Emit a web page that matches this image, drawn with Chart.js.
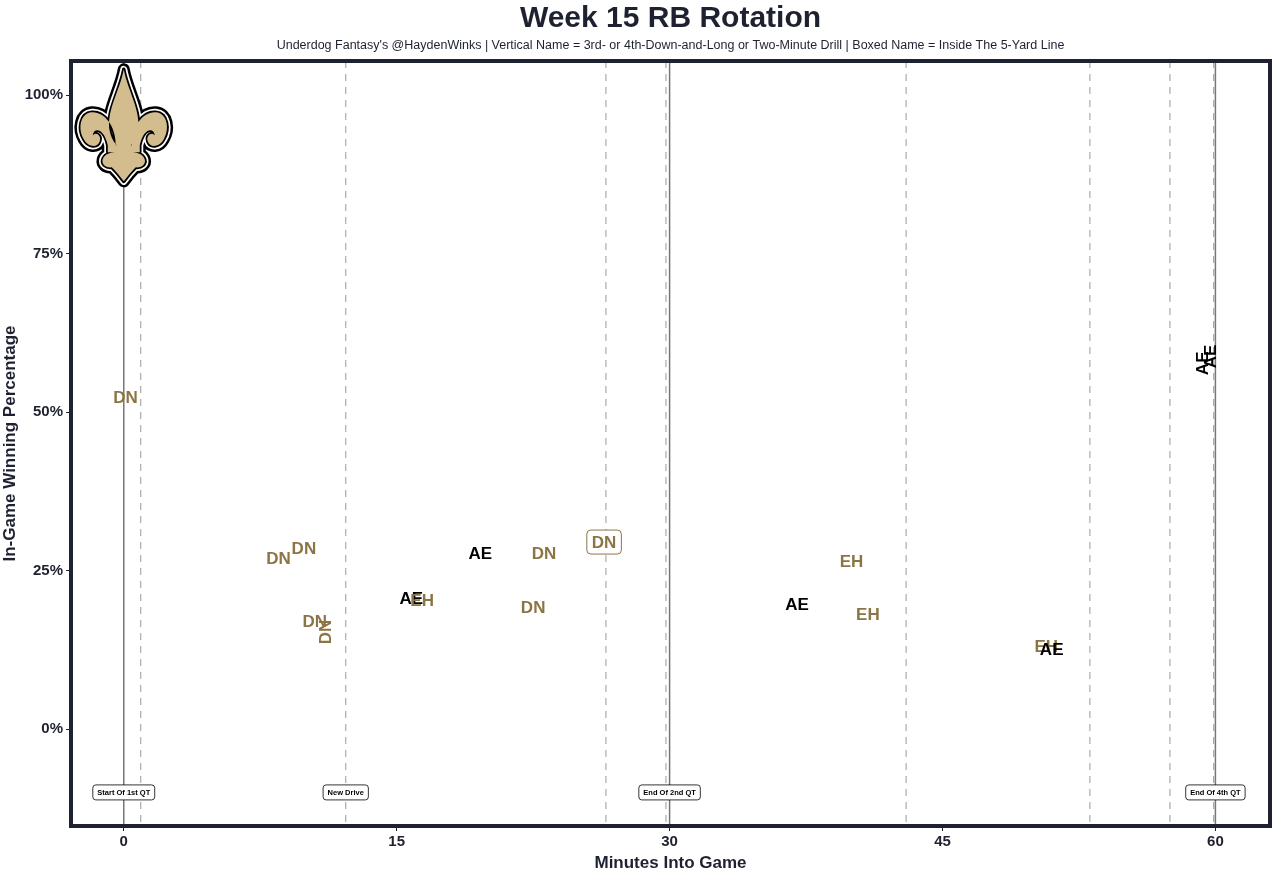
<!DOCTYPE html>
<html>
<head>
<meta charset="utf-8">
<script src="https://cdn.jsdelivr.net/npm/chart.js@4.4.1/dist/chart.umd.min.js"></script>
<style>
  html, body { margin: 0; padding: 0; background: #ffffff; }
  #wrap { width: 1279px; height: 874px; }
</style>
</head>
<body>
<div id="wrap"><canvas id="rbChart"></canvas></div>
<script>
// data
const dnX = [0.1, 8.5, 9.9, 10.5, 11.1, 22.5, 23.1, 26.4];
const dnY = [52.4, 27.0, 28.5, 17.0, 15.3, 19.2, 27.8, 29.5];
const dnVertical = [false, false, false, false, true, false, false, false];
const dnBoxed = [false, false, false, false, false, false, false, true];

const aeX = [15.8, 19.6, 37.0, 51.0, 59.3, 59.7];
const aeY = [20.7, 27.8, 19.7, 12.6, 57.7, 58.8];
const aeVertical = [false, false, false, false, true, true];
const aeBoxed = [false, false, false, false, false, false];

const ehX = [16.4, 40.0, 40.9, 50.7];
const ehY = [20.3, 26.5, 18.1, 13.1];
const ehVertical = [false, false, false, false];
const ehBoxed = [false, false, false, false];

const quarterLines = [0, 30, 60];
const driveLines = [0.93, 12.2, 26.5, 29.8, 43.0, 53.1, 57.5, 59.9];
const eventX = [0, 12.2, 30, 60];
const eventText = ['Start Of 1st QT', 'New Drive', 'End Of 2nd QT', 'End Of 4th QT'];
const eventY = -10;

const xTicks = [0, 15, 30, 45, 60];
const yTicks = [0, 25, 50, 75, 100];

const colors = {
  gold: '#8C7545',
  black: '#000000',
  logoGold: '#D3BC8D',
  ink: '#1E2130',
  line: '#777777',
  dash: '#AAAAAA'
};
const FONT = '"Liberation Sans", Arial, sans-serif';

const toPoints = (xs, ys) => xs.map((x, i) => ({ x: x, y: ys[i] }));

// fleur-de-lis drawn around the x=0 line (rough copy of the team logo)
const drawLogo = (ctx, cx, top) => {
  const side = (c, s) => {
    c.moveTo(cx + s * 8, top + 78);
    c.bezierCurveTo(cx + s * 8, top + 58, cx + s * 20, top + 44, cx + s * 32, top + 45);
    c.bezierCurveTo(cx + s * 44, top + 46, cx + s * 46, top + 62, cx + s * 40, top + 72);
    c.bezierCurveTo(cx + s * 36, top + 80, cx + s * 26, top + 81, cx + s * 24, top + 74);
    c.bezierCurveTo(cx + s * 22, top + 68, cx + s * 28, top + 64, cx + s * 31, top + 68);
    c.bezierCurveTo(cx + s * 30, top + 60, cx + s * 20, top + 60, cx + s * 16, top + 78);
    c.closePath();
  };
  const shapes = (c) => {
    c.beginPath();
    // centre petal
    c.moveTo(cx, top + 2);
    c.bezierCurveTo(cx + 4, top + 24, cx + 18, top + 44, cx + 14, top + 64);
    c.bezierCurveTo(cx + 12, top + 74, cx + 6, top + 80, cx, top + 84);
    c.bezierCurveTo(cx - 6, top + 80, cx - 12, top + 74, cx - 14, top + 64);
    c.bezierCurveTo(cx - 18, top + 44, cx - 4, top + 24, cx, top + 2);
    c.closePath();
    side(c, 1);
    side(c, -1);
    // band
    c.rect(cx - 16, top + 78, 32, 7);
    // lower part
    c.moveTo(cx - 7, top + 85);
    c.bezierCurveTo(cx - 24, top + 84, cx - 26, top + 101, cx - 12, top + 100);
    c.bezierCurveTo(cx - 8, top + 104, cx - 3, top + 110, cx, top + 114);
    c.bezierCurveTo(cx + 3, top + 110, cx + 8, top + 104, cx + 12, top + 100);
    c.bezierCurveTo(cx + 26, top + 101, cx + 24, top + 84, cx + 7, top + 85);
    c.closePath();
  };
  ctx.save();
  ctx.lineJoin = 'round';
  shapes(ctx);
  ctx.strokeStyle = '#000000';
  ctx.lineWidth = 12;
  ctx.stroke();
  ctx.strokeStyle = '#ffffff';
  ctx.lineWidth = 7;
  ctx.stroke();
  ctx.strokeStyle = '#000000';
  ctx.lineWidth = 3.5;
  ctx.stroke();
  ctx.fillStyle = colors.logoGold;
  ctx.fill();
  ctx.restore();
};

const roundRect = (ctx, x, y, w, h, r) => {
  ctx.beginPath();
  ctx.moveTo(x + r, y);
  ctx.lineTo(x + w - r, y);
  ctx.quadraticCurveTo(x + w, y, x + w, y + r);
  ctx.lineTo(x + w, y + h - r);
  ctx.quadraticCurveTo(x + w, y + h, x + w - r, y + h);
  ctx.lineTo(x + r, y + h);
  ctx.quadraticCurveTo(x, y + h, x, y + h - r);
  ctx.lineTo(x, y + r);
  ctx.quadraticCurveTo(x, y, x + r, y);
  ctx.closePath();
};

const rotationPlugin = {
  id: 'rotationPlugin',
  beforeDatasetsDraw(chart) {
    const { ctx, chartArea: a, scales: { x, y } } = chart;
    ctx.save();
    ctx.lineWidth = 1.2;
    ctx.strokeStyle = colors.dash;
    ctx.setLineDash([7, 6]);
    driveLines.forEach((v) => {
      const px = x.getPixelForValue(v);
      ctx.beginPath();
      ctx.moveTo(px, a.top);
      ctx.lineTo(px, a.bottom);
      ctx.stroke();
    });
    ctx.setLineDash([]);
    ctx.strokeStyle = colors.line;
    ctx.lineWidth = 1.5;
    quarterLines.forEach((v) => {
      const px = x.getPixelForValue(v);
      ctx.beginPath();
      ctx.moveTo(px, a.top);
      ctx.lineTo(px, a.bottom);
      ctx.stroke();
    });
    ctx.restore();

    drawLogo(ctx, x.getPixelForValue(0), y.getPixelForValue(104.4));

    // event boxes at the bottom
    ctx.save();
    ctx.font = 'bold 7.5px ' + FONT;
    ctx.textAlign = 'center';
    ctx.textBaseline = 'middle';
    eventX.forEach((v, i) => {
      const px = x.getPixelForValue(v);
      const py = y.getPixelForValue(eventY);
      const w = ctx.measureText(eventText[i]).width + 9;
      const h = 15;
      roundRect(ctx, px - w / 2, py - h / 2, w, h, 3);
      ctx.fillStyle = '#ffffff';
      ctx.fill();
      ctx.strokeStyle = '#000000';
      ctx.lineWidth = 0.8;
      ctx.stroke();
      ctx.fillStyle = '#000000';
      ctx.fillText(eventText[i], px, py + 0.5);
    });
    ctx.restore();
  },
  afterDatasetsDraw(chart) {
    const { ctx } = chart;
    const items = [];
    chart.data.datasets.forEach((ds, di) => {
      const meta = chart.getDatasetMeta(di);
      meta.data.forEach((el, i) => {
        items.push({
          px: el.x, py: el.y, v: ds.data[i].x, text: ds.label,
          color: ds.textColor, vertical: ds.vertical[i], boxed: ds.boxed[i]
        });
      });
    });
    // later plays are drawn on top
    items.sort((p, q) => p.v - q.v);
    ctx.save();
    ctx.font = 'bold 17px ' + FONT;
    ctx.textAlign = 'center';
    ctx.textBaseline = 'middle';
    items.forEach((it) => {
      ctx.save();
      ctx.translate(it.px, it.py);
      if (it.vertical) ctx.rotate(-Math.PI / 2);
      if (it.boxed) {
        const w = ctx.measureText(it.text).width + 10;
        roundRect(ctx, -w / 2, -12, w, 24, 4);
        ctx.fillStyle = '#ffffff';
        ctx.fill();
        ctx.strokeStyle = it.color;
        ctx.lineWidth = 1;
        ctx.stroke();
      }
      ctx.fillStyle = it.color;
      ctx.fillText(it.text, 0, 1);
      ctx.restore();
    });
    ctx.restore();
  },
  afterDraw(chart) {
    const { ctx, chartArea: a } = chart;
    ctx.save();
    ctx.strokeStyle = colors.ink;
    ctx.lineWidth = 4;
    ctx.strokeRect(a.left, a.top, a.right - a.left, a.bottom - a.top);
    const mid = (a.left + a.right) / 2;
    ctx.fillStyle = colors.ink;
    ctx.textAlign = 'center';
    ctx.textBaseline = 'middle';
    ctx.font = 'bold 30px ' + FONT;
    ctx.fillText('Week 15 RB Rotation', mid, 19);
    ctx.font = '12.5px ' + FONT;
    ctx.fillText("Underdog Fantasy's @HaydenWinks | Vertical Name = 3rd- or 4th-Down-and-Long or Two-Minute Drill | Boxed Name = Inside The 5-Yard Line", mid, 46);
    ctx.restore();
  }
};

const ds = (label, xs, ys, vert, boxed, color) => ({
  label: label,
  data: toPoints(xs, ys),
  vertical: vert,
  boxed: boxed,
  textColor: color,
  pointRadius: 0,
  pointHoverRadius: 0,
  showLine: false
});

new Chart(document.getElementById('rbChart'), {
  type: 'scatter',
  data: {
    datasets: [
      ds('DN', dnX, dnY, dnVertical, dnBoxed, colors.gold),
      ds('AE', aeX, aeY, aeVertical, aeBoxed, colors.black),
      ds('EH', ehX, ehY, ehVertical, ehBoxed, colors.gold)
    ]
  },
  options: {
    responsive: true,
    maintainAspectRatio: false,
    animation: false,
    layout: { padding: { top: 61, right: 9, left: 0, bottom: 0 } },
    plugins: {
      legend: { display: false },
      tooltip: { enabled: false }
    },
    scales: {
      x: {
        type: 'linear',
        min: -2.9,
        max: 63,
        afterBuildTicks: (s) => { s.ticks = xTicks.map((v) => ({ value: v })); },
        afterFit: (s) => { s.height = 48; },
        border: { display: false },
        grid: { drawOnChartArea: false, drawTicks: true, tickLength: 5, color: colors.ink, lineWidth: 1 },
        ticks: { color: colors.ink, font: { family: FONT, size: 15, weight: 'bold' }, padding: 2 },
        title: { display: true, text: 'Minutes Into Game', color: colors.ink, font: { family: FONT, size: 17, weight: 'bold' }, padding: { top: 0, bottom: 0 } }
      },
      y: {
        type: 'linear',
        min: -15.3,
        max: 105.4,
        afterBuildTicks: (s) => { s.ticks = yTicks.map((v) => ({ value: v })); },
        afterFit: (s) => { s.width = 71; },
        border: { display: false },
        grid: { drawOnChartArea: false, drawTicks: true, tickLength: 5, color: colors.ink, lineWidth: 1 },
        ticks: { color: colors.ink, font: { family: FONT, size: 15, weight: 'bold' }, padding: 3, callback: (v) => v + '%' },
        title: { display: true, text: 'In-Game Winning Percentage', color: colors.ink, font: { family: FONT, size: 17, weight: 'bold' }, padding: { top: 0, bottom: 0 } }
      }
    }
  },
  plugins: [rotationPlugin]
});
</script>
</body>
</html>
